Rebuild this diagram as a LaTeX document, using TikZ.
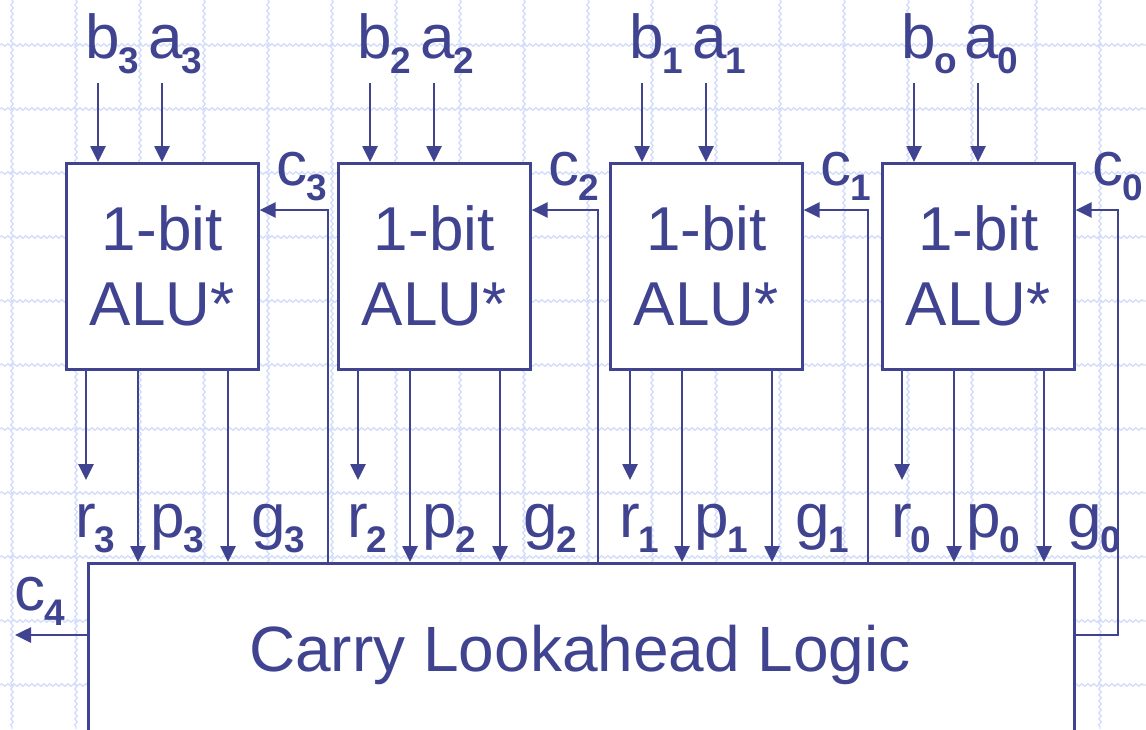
\documentclass[tikz,border=0pt]{standalone}
\usepackage{fontspec}
\setmainfont{Liberation Sans}
\usetikzlibrary{arrows.meta,calc,decorations.pathmorphing}
\definecolor{ink}{RGB}{64,68,144}
\definecolor{gridc}{RGB}{212,222,252}
\newcommand{\lbl}[2]{\fontsize{62}{62}\selectfont #1\kern-1pt\raisebox{-15pt}{\fontsize{37}{37}\selectfont\bfseries #2}}
\begin{document}
\begin{tikzpicture}[x=1pt,y=-1pt,line width=2.6pt,draw=ink,
  alubox/.style={draw=ink,fill=white,minimum width=192pt,minimum height=206pt,inner sep=0pt,
    align=center,font=\fontsize{62}{75}\selectfont,text=ink,anchor=north west},
  clabox/.style={draw=ink,fill=white,minimum width=986pt,minimum height=200pt,inner sep=0pt,anchor=north west},
  wire/.style={draw=ink,-{Triangle[length=16pt,width=15pt]}},
  lab/.style={anchor=base west,inner sep=0pt,text=ink},
  gridline/.style={draw=gridc,line width=1.4pt,decorate,decoration={snake,amplitude=1.2pt,segment length=6pt}}]
\useasboundingbox (0,0) rectangle (1146,729);
\clip (0,0) rectangle (1146,729);
% background grid
\foreach \k in {0,...,17} \draw[gridline] ({12+64*\k},0) -- ({12+64*\k},729);
\foreach \k in {0,...,10} \draw[gridline] (0,{45+64*\k}) -- (1146,{45+64*\k});
% carry lookahead block
\node[clabox] (cla) at (87,562) {};
\node[anchor=base,inner sep=0pt,text=ink,font=\fontsize{64}{64}\selectfont] (clat) at (580,671) {Carry Lookahead Logic};
% ALU slices
\foreach \L/\i/\bs/\kx in {65/3/3/328, 337/2/2/598, 609/1/1/868, 881/0/o/1118} {
  \node[alubox] (alu\i) at (\L,162) {1-bit\\ALU*};
  \node[lab] (b\i) at ({\L+19},58) {\lbl{b}{\bs}};
  \node[lab] (a\i) at ({\L+82},58) {\lbl{a}{\i}};
  \coordinate (bt\i) at ({\L+33},83);
  \coordinate (at\i) at ({\L+97},83);
  \draw[wire] (bt\i) -- (bt\i |- alu\i.north);
  \draw[wire] (at\i) -- (at\i |- alu\i.north);
  \coordinate (re\i) at ({\L+21},480);
  \coordinate (ps\i) at ({\L+73},368);
  \coordinate (gs\i) at ({\L+163},368);
  \draw[wire] (re\i |- alu\i.south) -- (re\i);
  \draw[wire] (ps\i) -- (ps\i |- cla.north);
  \draw[wire] (gs\i) -- (gs\i |- cla.north);
  \node[lab] (r\i) at ({\L+9},537) {\lbl{r}{\i}};
  \node[lab] (p\i) at ({\L+84},537) {\lbl{p}{\i}};
  \node[lab] (g\i) at ({\L+185},537) {\lbl{g}{\i}};
  \node[lab] (c\i) at ({\L+210},185) {\lbl{c}{\i}};
  \coordinate (k\i) at (\kx,210);
}
% carries from the lookahead logic
\foreach \i in {3,2,1} \draw[wire] (k\i |- cla.north) -- (k\i) -- (k\i -| alu\i.east);
\coordinate (cout0) at ($(cla.north east)+(0,73)$);
\draw[wire] (cout0) -| (k0) -- (k0 -| alu0.east);
\coordinate (cout4) at ($(cla.north west)+(0,73)$);
\coordinate (c4e) at (15,635);
\draw[wire] (cout4) -- (c4e);
\node[lab] (c4) at (13,610) {\lbl{c}{4}};
\end{tikzpicture}
\end{document}
